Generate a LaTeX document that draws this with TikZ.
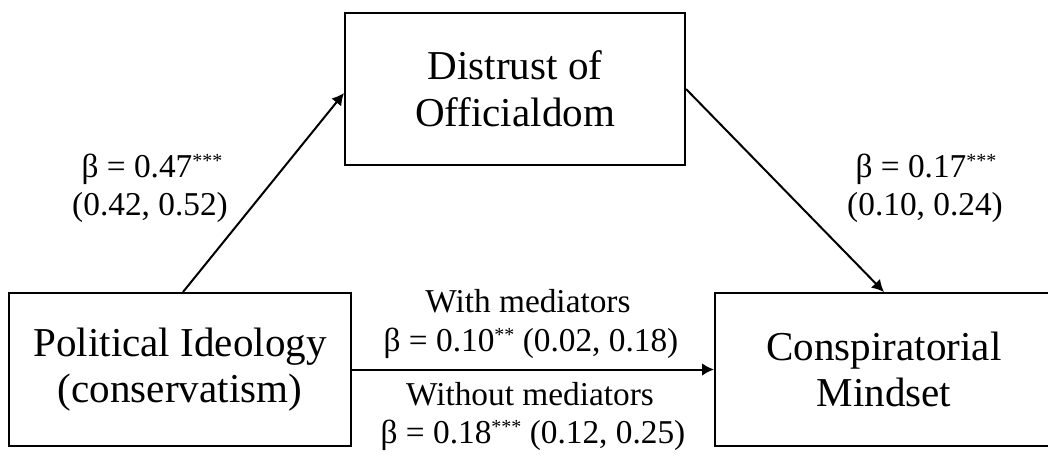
\documentclass[tikz,border=0pt]{standalone}
\usepackage{fontspec}
\setmainfont{Liberation Serif}
\usetikzlibrary{arrows.meta}
\newcommand{\sigstar}[1]{\raisebox{7pt}{\fontsize{15}{15}\selectfont #1}}
\begin{document}
\begin{tikzpicture}[x=0.75pt,y=-0.75pt,
  box/.style={draw,line width=1.5pt,inner sep=0pt,align=center,font=\fontsize{30.8}{35}\selectfont},
  lbl/.style={anchor=base,inner sep=0pt,font=\fontsize{25}{28}\selectfont},
  arr/.style={line width=1.5pt,-{Latex[length=9pt,width=9.5pt]}}]
\useasboundingbox (0,0) rectangle (1048,458);
\node[box,minimum width=255pt,minimum height=114pt] (T) at (515,89) {Distrust of\\Officialdom};
\node[box,minimum width=256.5pt,minimum height=114.75pt] (L) at (180,369.5) {Political Ideology\\(conservatism)};
\node[box,minimum width=253.5pt,minimum height=114.75pt] (R) at (884,369.5) {Conspiratorial\\Mindset};

\draw[arr] ([xshift=2.25pt]L.north) -- ([yshift=-3pt]T.west);
\draw[arr] (T.east) -- (R.north);
\draw[arr] (L.east) -- (R.west);

\node[lbl] (a1) at (152,177) {β = 0.47\sigstar{***}};
\node[lbl] (a2) at (150,215) {(0.42, 0.52)};
\node[lbl] (b1) at (926,177) {β = 0.17\sigstar{***}};
\node[lbl] (b2) at (925,215) {(0.10, 0.24)};
\node[lbl] (c1) at (528,312) {With mediators};
\node[lbl] (c2) at (531,351) {β = 0.10\sigstar{**} (0.02, 0.18)};
\node[lbl] (d1) at (530,405) {Without mediators};
\node[lbl] (d2) at (533,443) {β = 0.18\sigstar{***} (0.12, 0.25)};
\end{tikzpicture}
\end{document}
